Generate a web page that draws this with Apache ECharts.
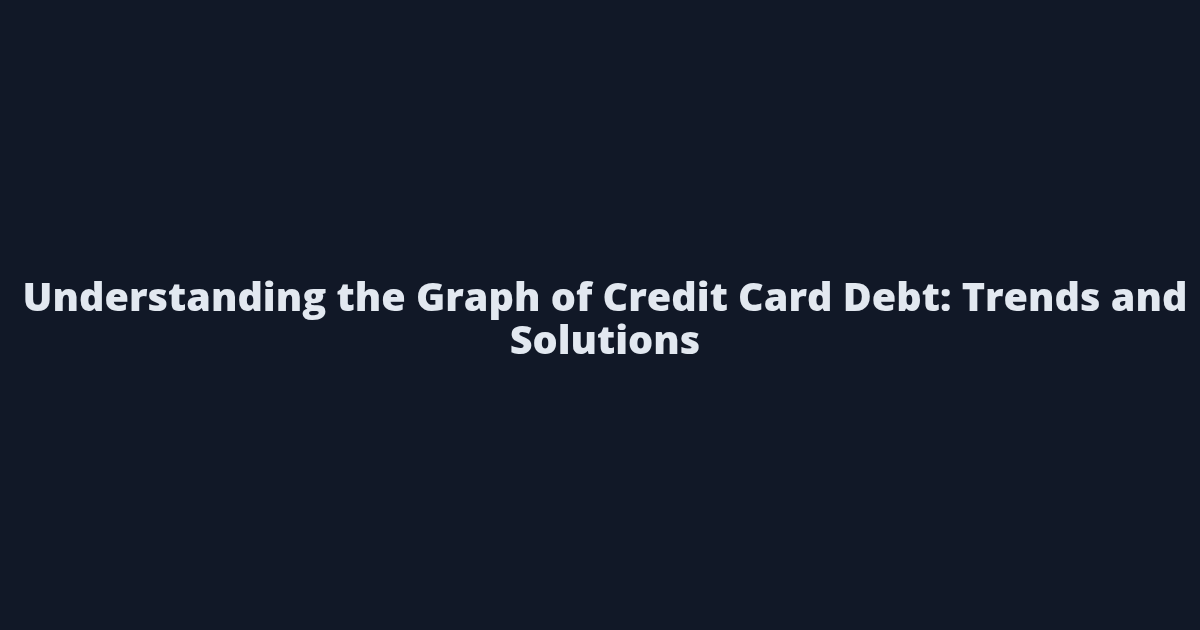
<!DOCTYPE html>
<html>
<head>
<meta charset="utf-8">
<script src="https://cdn.jsdelivr.net/npm/echarts@6/dist/echarts.min.js"></script>
<style>
  html, body { margin: 0; padding: 0; background: #111827; }
  #chart { width: 1200px; height: 630px; }
</style>
</head>
<body>
<div id="chart"></div>
<script>
// title card text, one entry per line
var titleLines = ['Understanding the Graph of Credit Card Debt: Trends and', 'Solutions'];

var chart = echarts.init(document.querySelector('#chart'));
chart.setOption({
    backgroundColor: '#111827',
    title: {
        text: titleLines.join('\n'),
        left: 600,
        top: 273,
        textAlign: 'center',
        textStyle: {
            color: '#e2e8f0',
            fontFamily: 'Open Sans',
            fontWeight: 800,
            fontSize: 39.6,
            lineHeight: 43
        }
    },
    series: []
});
</script>
</body>
</html>
